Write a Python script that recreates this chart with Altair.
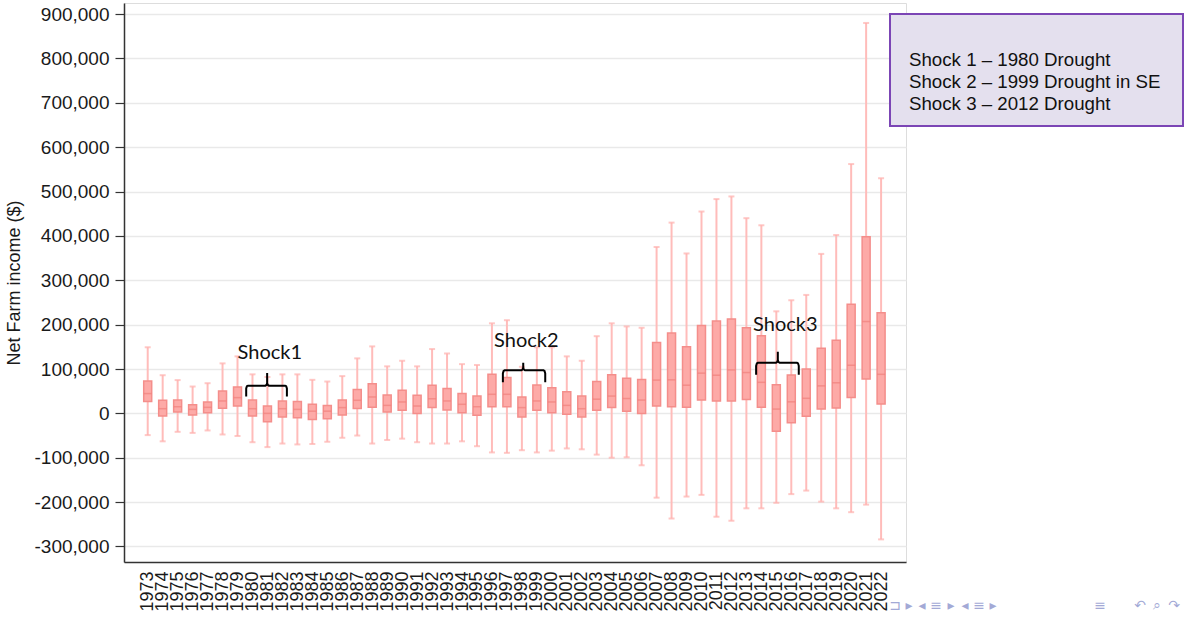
import altair as alt
import pandas as pd

# Net farm income distribution by year (US$): whisker ends, quartiles and median
years = list(range(1973, 2023))
low = [-49000, -63000, -41600, -44000, -38500, -47600, -51000, -65000, -76000, -68000,
       -70000, -69000, -64000, -55000, -50000, -68000, -60000, -57000, -65000, -68000,
       -68000, -63000, -74000, -88000, -89000, -83000, -88000, -84000, -79000, -81000,
       -93000, -100000, -99000, -117000, -190000, -237000, -187500, -183700, -233000, -242000,
       -214000, -214000, -201600, -182000, -174000, -199000, -214000, -222700, -205700, -284000]
q1 = [26500, -6000, 3000, -3800, 1500, 11300, 16600, -6000, -19000, -8000,
      -10000, -13600, -12000, -3800, 11000, 14000, 3000, 6800, 0, 13000,
      7600, 1500, -4500, 15000, 15000, -8000, 7000, 1500, -2000, -8000,
      7000, 13000, 5000, 0, 16600, 15000, 14000, 30000, 28000, 28000,
      31000, 14000, -40500, -21000, -6500, 9700, 12000, 36000, 77700, 21000]
median = [44600, 10600, 15000, 9000, 13600, 28000, 35500, 10600, 0, 10600,
          9000, 5000, 5000, 13000, 29500, 37000, 18000, 25700, 16600, 33000,
          28000, 20400, 15000, 43000, 43000, 13000, 28000, 25700, 18000, 10600,
          32000, 39000, 33500, 30000, 75000, 75600, 63500, 90700, 86000, 98000,
          92000, 70000, 9700, 26000, 34000, 62000, 69000, 108500, 207000, 88000]
q3 = [73000, 29500, 30000, 19600, 25700, 50600, 59700, 30000, 16600, 28000,
      26500, 20400, 18000, 30000, 54000, 67000, 41500, 52000, 40800, 63500,
      56000, 44600, 39000, 88000, 81000, 37000, 64000, 58000, 49000, 39000,
      72000, 87000, 79000, 76500, 160000, 181000, 150000, 198000, 208000, 213000,
      193000, 175000, 64800, 86600, 100000, 147000, 165000, 246000, 398000, 226700]
high = [149000, 86000, 75000, 60500, 68000, 112700, 128500, 88000, 82000, 88000,
        88000, 75600, 71800, 84000, 124000, 151000, 106000, 118600, 106000, 145000,
        135000, 111000, 109000, 203000, 210000, 105000, 149000, 149000, 128500, 118600,
        174000, 203000, 196000, 193000, 375000, 430000, 360500, 455000, 483000, 489000,
        440000, 424000, 230000, 255000, 267000, 359500, 402000, 562000, 880000, 530000]

# Drought shocks: brace span (years) and heights, label position
shock_names = ["Shock1", "Shock2", "Shock3"]
brace_left = [1979.58, 1996.73, 2013.65]
brace_mid = [1980.98, 1998.09, 2015.10]
brace_right = [1982.30, 1999.56, 2016.50]
brace_line = [62500, 97000, 114000]
brace_end = [38000, 70000, 87000]
brace_tip = [91000, 114000, 139000]
label_year = [1981.16, 1998.30, 2015.60]
label_value = [137000, 164000, 200000]

legend_lines = ["Shock 1 – 1980 Drought", "Shock 2 – 1999 Drought in SE", "Shock 3 – 2012 Drought"]
nav_glyphs = ["⊐", "▸", "◂", "≡", "▸", "◂", "≡", "▸", "≡", "↶", "⌕", "↷"]
nav_x = [771, 785, 798, 812, 827, 841, 855, 869, 976, 1016, 1033, 1050]

y_ticks = list(range(-300000, 900001, 100000))

boxes = pd.DataFrame({"year": years, "low": low, "q1": q1, "median": median,
                      "q3": q3, "high": high})

# brace outlines built as ordered paths from the spans above
rows = []
for i, name in enumerate(shock_names):
    L, M, R = brace_left[i], brace_mid[i], brace_right[i]
    ln, en, tp = brace_line[i], brace_end[i], brace_tip[i]
    d = 0.12
    r = (ln - en) * 0.25
    pts = [(L, en), (L, ln - r), (L + d * 0.4, ln - r * 0.2), (L + d, ln),
           (M - d, ln), (M - d * 0.3, ln + r * 0.3), (M, ln + r), (M, tp),
           (M, ln + r), (M + d * 0.3, ln + r * 0.3), (M + d, ln),
           (R - d, ln), (R - d * 0.4, ln - r * 0.2), (R, ln - r), (R, en)]
    for k, (px, py) in enumerate(pts):
        rows.append({"shock": name, "seq": k, "year": px, "value": py})
braces = pd.DataFrame(rows)
labels = pd.DataFrame({"shock": shock_names, "year": label_year, "value": label_value})

x_scale = alt.Scale(domain=[1971.75, 2023.33], nice=False, zero=False)
y_scale = alt.Scale(domain=[-335000, 925000], nice=False, zero=False)

x_axis = alt.Axis(values=years, format="d", labelAngle=270, ticks=False, grid=False,
                  labelFontSize=18, labelPadding=9, labelOverlap=False, labelFlush=False,
                  domainColor="#333333", domainWidth=1.5, labelColor="#1a1a1a",
                  labelFont="Liberation Sans", title=None)
y_axis = alt.Axis(values=y_ticks, format=",d", tickSize=9, tickColor="#333333",
                  labelExpr="replace(datum.label, '\u2212', '-')",
                  tickWidth=1.2, domainColor="#333333", domainWidth=1.5,
                  labelFontSize=19, labelPadding=6, labelColor="#1a1a1a",
                  labelFont="Liberation Sans", title="Net Farm income ($)",
                  titleFontSize=18, titleFontWeight="normal", titleFont="Liberation Sans",
                  titleColor="#1a1a1a", titlePadding=10, grid=True,
                  gridColor="#e9e9e9", gridWidth=1.5)

X = alt.X("year:Q", scale=x_scale, axis=x_axis)

base = alt.Chart(boxes)
whiskers = base.mark_rule(color="#ffbcba", strokeWidth=2).encode(
    x=X,
    y=alt.Y("low:Q", scale=y_scale, axis=y_axis),
    y2="high:Q",
)
cap_lo = base.mark_tick(color="#ffb0ae", orient="horizontal", size=6, thickness=2).encode(
    x=X, y="low:Q")
cap_hi = base.mark_tick(color="#ffb0ae", orient="horizontal", size=6, thickness=2).encode(
    x=X, y="high:Q")
box = base.mark_bar(size=8, fill="#fdaaa7", stroke="#f48e8b", strokeWidth=1.5).encode(
    x=X, y="q1:Q", y2="q3:Q")
med = base.mark_tick(color="#f0807c", orient="horizontal", size=8, thickness=1.5).encode(
    x=X, y="median:Q")

brace_marks = alt.Chart(braces).mark_line(color="#000000", strokeWidth=2).encode(
    x=X, y="value:Q", detail="shock:N", order="seq:Q")
shock_text = alt.Chart(labels).mark_text(font="Lato", fontSize=20, color="#111111").encode(
    x=X, y="value:Q", text="shock:N")

one = pd.DataFrame({"k": [0]})
legend_box = alt.Chart(one).mark_rect(fill="#e4e0ee", stroke="#7b45b5", strokeWidth=2).encode(
    x=alt.value(766), x2=alt.value(1059), y=alt.value(11), y2=alt.value(123))

legend_layers = []
for i, line in enumerate(legend_lines):
    legend_layers.append(
        alt.Chart(pd.DataFrame({"t": [line]})).mark_text(
            align="left", baseline="middle", font="Liberation Sans",
            fontSize=18.7, color="#111111"
        ).encode(x=alt.value(785), y=alt.value(57 + 22 * i), text="t:N")
    )

# slide navigation symbols along the bottom edge
nav_layers = []
for g, gx in zip(nav_glyphs, nav_x):
    nav_layers.append(
        alt.Chart(pd.DataFrame({"g": [g]})).mark_text(
            font="DejaVu Sans", fontSize=14, color="#a3a9d6", baseline="middle"
        ).encode(x=alt.value(gx), y=alt.value(603), text="g:N")
    )

chart = alt.layer(whiskers, cap_lo, cap_hi, box, med, brace_marks, shock_text,
                  legend_box, *legend_layers, *nav_layers).properties(
    width=782, height=559,
    autosize=alt.AutoSizeParams(type="none"),
    padding={"left": 124, "top": 3, "right": 278, "bottom": 56},
).configure_view(stroke=None).configure(background="white").configure_axisX(
    labelOverlap=False
)

chart.save("out.html", embed_options={"renderer": "svg", "actions": False})
